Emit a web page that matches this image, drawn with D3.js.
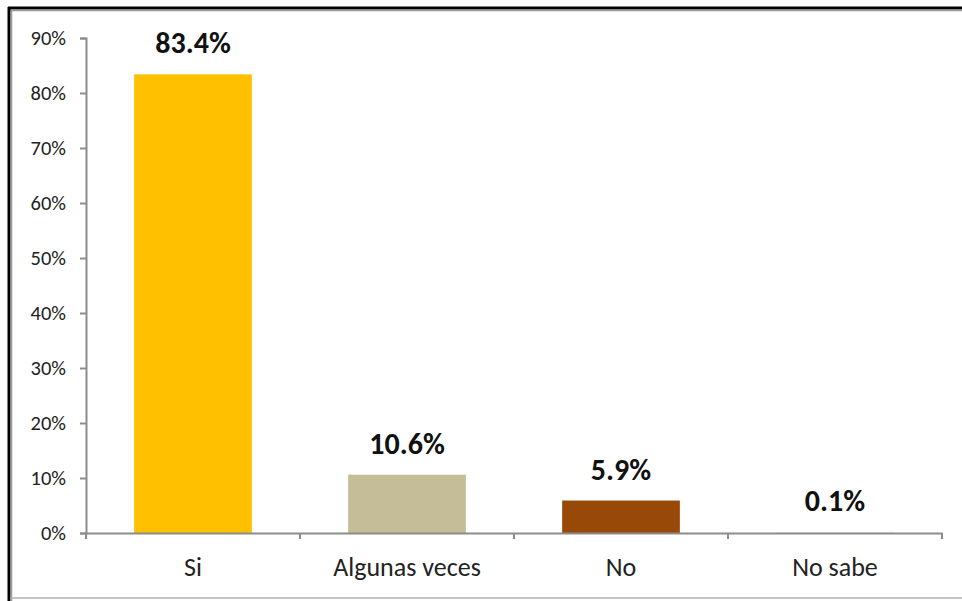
<!DOCTYPE html>
<html><head><meta charset="utf-8">
<script src="https://cdn.jsdelivr.net/npm/d3@7"></script>
<style>
html,body{margin:0;padding:0;background:#fff;}
svg{display:block;}
text{font-family:Carlito, Calibri, Lato, "Liberation Sans", sans-serif;}
</style></head>
<body>
<svg id="chart" width="962" height="601"></svg>
<script>
const categories = ["Si", "Algunas veces", "No", "No sabe"];
const values = [0.834, 0.106, 0.059, 0.001];
const labels = ["83.4%", "10.6%", "5.9%", "0.1%"];
const colors = ["#FFC000", "#C4BD97", "#984807", "#D9D9D9"];
const yTicks = [0, 0.1, 0.2, 0.3, 0.4, 0.5, 0.6, 0.7, 0.8, 0.9];

(function () {
const svg = d3.select("#chart");
const pLeft = 86, pRight = 942, pTop = 38, pBottom = 533;
const ff = "Carlito, Calibri, Lato, 'Liberation Sans', sans-serif";

// frame
svg.append("line").attr("x1", 8).attr("x2", 962).attr("y1", 8).attr("y2", 8).attr("stroke", "#000").attr("stroke-width", 3);
svg.append("line").attr("x1", 10).attr("x2", 962).attr("y1", 10.5).attr("y2", 10.5).attr("stroke", "#9a9a9a").attr("stroke-width", 1.5);
svg.append("line").attr("x1", 9).attr("x2", 9).attr("y1", 7).attr("y2", 601).attr("stroke", "#000").attr("stroke-width", 3);
svg.append("line").attr("x1", 11.5).attr("x2", 11.5).attr("y1", 10).attr("y2", 601).attr("stroke", "#9a9a9a").attr("stroke-width", 1.5);
svg.append("line").attr("x1", 10).attr("x2", 962).attr("y1", 598).attr("y2", 598).attr("stroke", "#b0b0b0").attr("stroke-width", 1.5);

const x = d3.scaleBand().domain(categories).range([pLeft, pRight]).paddingInner(0.45).paddingOuter(0.225);
const y = d3.scaleLinear().domain([0, 0.9]).range([pBottom, pTop]);

// bars
svg.selectAll("rect.bar").data(categories).join("rect")
  .attr("class", "bar")
  .attr("x", d => x(d))
  .attr("width", x.bandwidth())
  .attr("y", (d, i) => y(values[i]))
  .attr("height", (d, i) => pBottom - y(values[i]))
  .attr("fill", (d, i) => colors[i]);

// y axis
const yAxis = d3.axisLeft(y).tickValues(yTicks).tickFormat(d3.format(".0%")).tickSizeOuter(0).tickSize(6).tickPadding(14);
const gy = svg.append("g").attr("transform", `translate(${pLeft},0)`).call(yAxis);
gy.select(".domain").attr("stroke", "#8c8c8c").attr("stroke-width", 2);
gy.selectAll(".tick line").attr("stroke", "#8c8c8c").attr("stroke-width", 2);
gy.selectAll(".tick text").attr("fill", "#222").style("font-size", "20.5px").style("font-family", ff);

// x axis
const xAxis = d3.axisBottom(x).tickSize(0).tickPadding(25);
const gx = svg.append("g").attr("transform", `translate(0,${pBottom})`).call(xAxis);
gx.select(".domain").attr("stroke", "#8c8c8c").attr("stroke-width", 2);
gx.selectAll(".tick text").attr("fill", "#222").style("font-size", "26px").style("font-family", ff);
const sepPositions = categories.map(c => x(c) - x.step() * x.paddingInner() / 2).concat([pRight]);
gx.selectAll("line.sep").data(sepPositions).join("line")
  .attr("class", "sep")
  .attr("x1", d => d).attr("x2", d => d)
  .attr("y1", 0).attr("y2", 6)
  .attr("stroke", "#8c8c8c").attr("stroke-width", 2);

// value labels
svg.selectAll("text.val").data(categories).join("text")
  .attr("class", "val")
  .attr("x", d => x(d) + x.bandwidth() / 2)
  .attr("y", (d, i) => y(values[i]) - 21)
  .attr("text-anchor", "middle")
  .attr("fill", "#111")
  .style("font-size", "30px")
  .style("font-weight", "bold")
  .style("font-family", ff)
  .text((d, i) => labels[i]);
})();
</script>
</body></html>
